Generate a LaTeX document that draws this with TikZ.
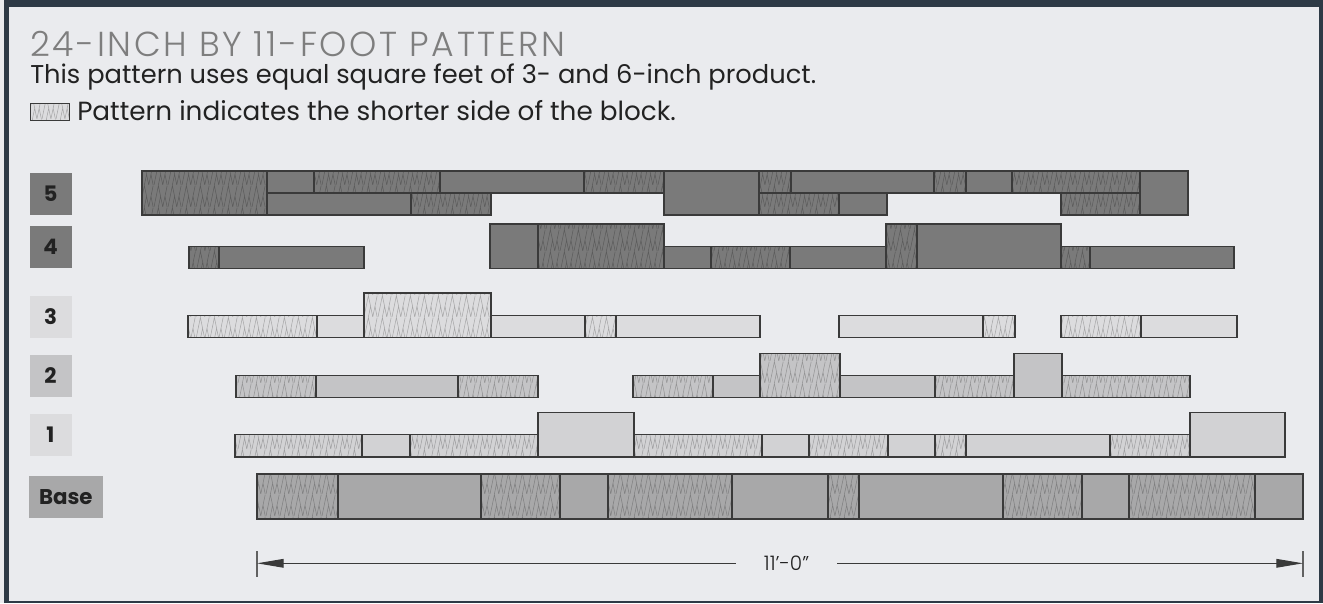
\documentclass[tikz,border=0pt]{standalone}
\usepackage{fontspec}
\setmainfont{Poppins}
\newfontfamily\thinfont{Poppins}[UprightFont=* Light]
\newfontfamily\headfont{Poppins}[UprightFont=* Light, LetterSpace=7.5]
\usetikzlibrary{arrows.meta, positioning, patterns}

\definecolor{bg}{HTML}{EAEBEE}
\definecolor{frame}{HTML}{2E3A46}
\definecolor{edge}{HTML}{3A3A3A}
\definecolor{ink}{HTML}{222222}
\definecolor{head}{HTML}{7E7E7E}
\definecolor{gr5}{HTML}{7A7A7A}
\definecolor{gr3}{HTML}{DCDCDE}
\definecolor{gr2}{HTML}{C4C4C6}
\definecolor{gr1}{HTML}{D2D2D4}
\definecolor{grb}{HTML}{A8A8A9}

% zigzag texture for the short side of a block
\pgfdeclarepatternformonly{weave}{\pgfqpoint{0pt}{0pt}}{\pgfqpoint{10.5pt}{16.5pt}}{\pgfqpoint{10.5pt}{16.5pt}}{
  \pgfsetlinewidth{0.4pt}
  \pgfpathmoveto{\pgfqpoint{0pt}{0pt}}
  \pgfpathlineto{\pgfqpoint{3.5pt}{16.5pt}}
  \pgfpathlineto{\pgfqpoint{7pt}{0pt}}
  \pgfpathlineto{\pgfqpoint{10.5pt}{16.5pt}}
  \pgfpathmoveto{\pgfqpoint{3.5pt}{0pt}}
  \pgfpathlineto{\pgfqpoint{5.25pt}{8.25pt}}
  \pgfpathmoveto{\pgfqpoint{8.75pt}{8.25pt}}
  \pgfpathlineto{\pgfqpoint{10.5pt}{0pt}}
  \pgfusepath{stroke}
}

\tikzset{
  plain/.style={draw=edge, line width=1.1pt, fill=#1},
  hatch/.style={draw=edge, line width=1.1pt, preaction={fill=#1}, pattern=weave, pattern color=#1!75!black},
  tag/.style={fill=#1, minimum width=31.5pt, minimum height=31.5pt, inner sep=0pt,
    text=ink, font=\bfseries\fontsize{16}{18}\selectfont},
  tick/.style={draw=edge!80, line width=1.1pt},
}

\begin{document}
\begin{tikzpicture}[x=0.75pt, y=-0.75pt]
  \useasboundingbox (0,0) rectangle (1323,603);
  \fill[bg] (0,0) rectangle (1323,603);
  \fill[frame] (4,0) rectangle (1323,603);
  \fill[bg] (9,7) rectangle (1319,601);

  % heading
  \node[anchor=base west, inner sep=0pt, text=head, font=\headfont\fontsize{26}{30}\selectfont] (title) at (30,56) {24-INCH BY 11-FOOT PATTERN};
  \node[anchor=base west, inner sep=0pt, text=ink, font=\fontsize{19.3}{23}\selectfont] (note) at (30,83) {This pattern uses equal square feet of 3- and 6-inch product.};
  \draw[hatch=gr3, line width=0.6pt] (30,103) rectangle (69,120);
  \node[anchor=base west, inner sep=0pt, text=ink, font=\fontsize{19.7}{23}\selectfont] (key) at (77,120) {Pattern indicates the shorter side of the block.};

  % course labels
  \node[tag=gr5] (lab5) at (50.5,193.7) {5};
  \node[tag=gr5] (lab4) at (50.5,247.3) {4};
  \node[tag=gr3] (lab3) at (50.5,316.7) {3};
  \node[tag=gr2] (lab2) at (50.5,375.5) {2};
  \node[tag=gr3] (lab1) at (50.5,434.5) {1};
  \node[tag=grb, minimum width=55.3pt] (labbase) at (65.8,496.7) {Base};

  % course 5
  \foreach \a/\b/\c/\d in {267/314/171/193, 440/584/171/193, 267/411/193/215, 664/759/171/215,
      791/934/171/193, 966/1012/171/193, 839/887/193/215, 1140/1188/171/215}
    \draw[plain=gr5] (\a,\c) rectangle (\b,\d);
  \foreach \a/\b/\c/\d in {142/267/171/215, 314/440/171/193, 584/664/171/193, 411/491/193/215,
      759/791/171/193, 934/966/171/193, 1012/1140/171/193, 759/839/193/215, 1061/1140/193/215}
    \draw[hatch=gr5] (\a,\c) rectangle (\b,\d);

  % course 4
  \foreach \a/\b/\c/\d in {219/364/246.3/268.5, 490/538/224/268.5, 664/711/246.3/268.5,
      790/886/246.3/268.5, 917/1061/224/268.5, 1090/1234/246.3/268.5}
    \draw[plain=gr5] (\a,\c) rectangle (\b,\d);
  \foreach \a/\b/\c/\d in {189/219/246.3/268.5, 538/664/224/268.5, 711/790/246.3/268.5,
      886/917/224/268.5, 1061/1090/246.3/268.5}
    \draw[hatch=gr5] (\a,\c) rectangle (\b,\d);

  % course 3
  \foreach \a/\b/\c/\d in {317/364/315.3/337.7, 491/585/315.3/337.7, 616/760/315.3/337.7,
      839/983/315.3/337.7, 1141/1237/315.3/337.7}
    \draw[plain=gr3] (\a,\c) rectangle (\b,\d);
  \foreach \a/\b/\c/\d in {188/317/315.3/337.7, 364/491/293/337.7, 585/616/315.3/337.7,
      983/1015/315.3/337.7, 1061/1141/315.3/337.7}
    \draw[hatch=gr3] (\a,\c) rectangle (\b,\d);

  % course 2
  \foreach \a/\b/\c/\d in {316/458/375.5/397.7, 713/760/375.5/397.7, 840/935/375.5/397.7,
      1014/1062/353.3/397.7}
    \draw[plain=gr2] (\a,\c) rectangle (\b,\d);
  \foreach \a/\b/\c/\d in {236/316/375.5/397.7, 458/538/375.5/397.7, 633/713/375.5/397.7,
      760/840/353.3/397.7, 935/1014/375.5/397.7, 1062/1190/375.5/397.7}
    \draw[hatch=gr2] (\a,\c) rectangle (\b,\d);

  % course 1
  \foreach \a/\b/\c/\d in {362/410/434.7/457, 538/634/412.5/457, 762/809/434.7/457,
      888/935/434.7/457, 966/1110/434.7/457, 1190/1285/412.5/457}
    \draw[plain=gr1] (\a,\c) rectangle (\b,\d);
  \foreach \a/\b/\c/\d in {235/362/434.7/457, 410/538/434.7/457, 634/762/434.7/457,
      809/888/434.7/457, 935/966/434.7/457, 1110/1190/434.7/457}
    \draw[hatch=gr1] (\a,\c) rectangle (\b,\d);

  % base course
  \foreach \a/\b in {338/481, 560/608, 732/828, 859/1003, 1082/1129, 1255/1303}
    \draw[plain=grb] (\a,474) rectangle (\b,519);
  \foreach \a/\b in {257/338, 481/560, 608/732, 828/859, 1003/1082, 1129/1255}
    \draw[hatch=grb] (\a,474) rectangle (\b,519);

  % overall length
  \coordinate (endl) at (257,563.3);
  \coordinate (endr) at (1303,563.3);
  \draw[tick] (257,551) -- (257,577);
  \draw[tick] (1303,551) -- (1303,577);
  \node[inner sep=0pt, minimum width=75.75pt, minimum height=14pt, text=ink, font=\thinfont\fontsize{15}{17}\selectfont] (len) at (786.5,563.3) {11’-0”};
  \draw[edge, line width=0.8pt, -{Triangle[length=20pt, width=6.5pt]}] (len.west) -- (endl);
  \draw[edge, line width=0.8pt, -{Triangle[length=20pt, width=6.5pt]}] (len.east) -- (endr);
\end{tikzpicture}
\end{document}
